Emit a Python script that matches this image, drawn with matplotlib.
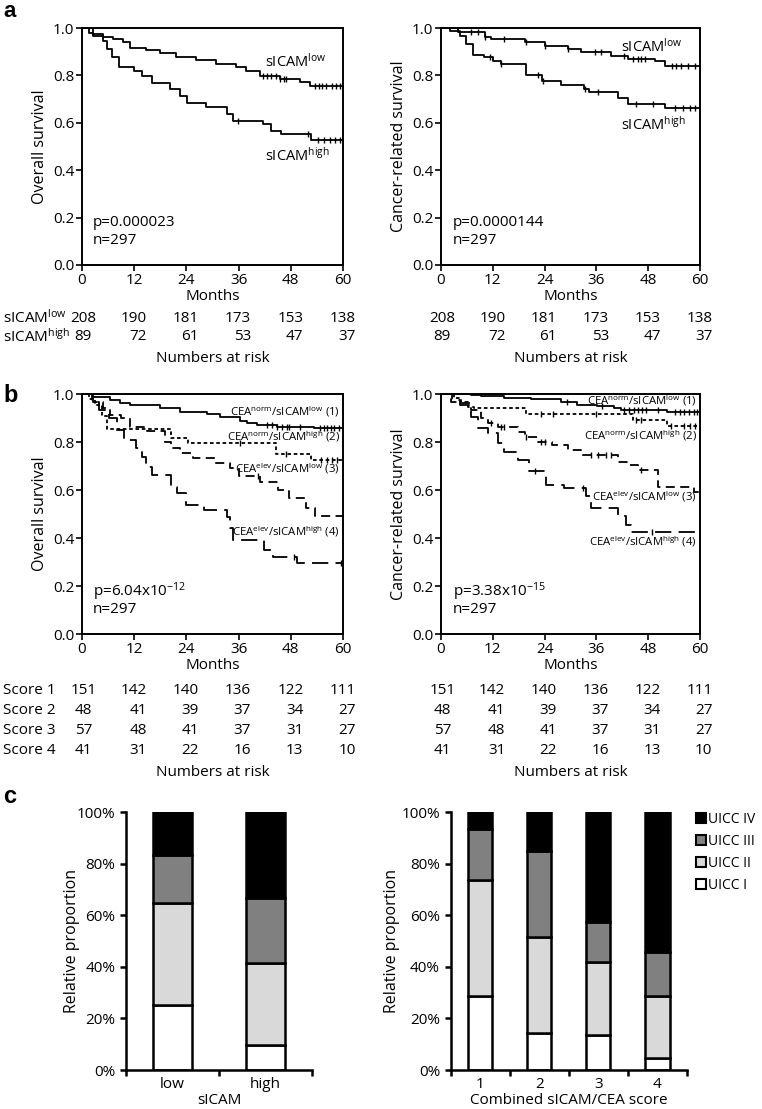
import numpy as np
import matplotlib
matplotlib.use('Agg')
import matplotlib.pyplot as plt
import matplotlib.patches as mpatches
import matplotlib.transforms as mtransforms
from matplotlib.ticker import PercentFormatter, FormatStrFormatter

plt.rcParams['font.family'] = ['Open Sans', 'DejaVu Sans']
plt.rcParams['mathtext.fontset'] = 'custom'
plt.rcParams['mathtext.rm'] = 'Open Sans'
plt.rcParams['mathtext.it'] = 'Open Sans:italic'
plt.rcParams['mathtext.bf'] = 'Open Sans:bold'

W, H = 762, 1109

################################
# a - sICAM low / high (meses, sobrevida)

a_os_low_t = [0, 2.6, 4.9, 7.2, 9.5, 11.0, 14.8, 17.9, 21.7, 26.3, 30.9, 35.5, 37.8, 40.9, 45.5, 50.1, 52.4]
a_os_low_s = [1.0, 0.975, 0.961, 0.954, 0.94, 0.916, 0.907, 0.893, 0.876, 0.865, 0.848, 0.834, 0.817, 0.799, 0.785, 0.771, 0.755]
a_os_low_cens = [41.5, 42.5, 43.5, 44.5, 45.5, 46.5, 47.0, 53.5, 54.5, 55.2, 56.0, 57.5, 58.5, 59.3]

a_os_high_t = [0, 1.5, 2.6, 4.9, 5.7, 6.9, 8.4, 11.9, 13.8, 16.1, 20.3, 22.6, 24.2, 28.4, 33.4, 34.6, 41.5, 43.4, 45.7, 52.6]
a_os_high_s = [1.0, 0.978, 0.966, 0.946, 0.911, 0.876, 0.834, 0.82, 0.799, 0.767, 0.743, 0.714, 0.682, 0.668, 0.637, 0.609, 0.595, 0.567, 0.553, 0.527]
a_os_high_cens = [35.8, 52.0, 54.3, 55.7, 57.0, 58.2, 59.3]

a_crs_low_t = [0, 3.9, 10.1, 11.6, 19.4, 24.0, 29.4, 32.5, 39.4, 43.3, 49.5, 51.8]
a_crs_low_s = [1.0, 0.982, 0.963, 0.954, 0.94, 0.925, 0.911, 0.897, 0.883, 0.869, 0.862, 0.838]
a_crs_low_cens = [7.0, 8.6, 10.1, 14.7, 19.8, 24.0, 29.4, 35.6, 37.1, 42.5, 44.5, 45.6, 46.4, 47.2,
                  53.4, 54.5, 55.7, 57.2, 58.8]

a_crs_high_t = [0, 2.0, 4.5, 5.8, 7.5, 10.0, 12.0, 14.0, 19.7, 23.5, 27.8, 33.2, 34.3, 41.0, 43.3, 52.0]
a_crs_high_s = [1.0, 0.988, 0.965, 0.932, 0.886, 0.876, 0.862, 0.848, 0.80, 0.778, 0.76, 0.743, 0.732, 0.705, 0.679, 0.663]
a_crs_high_cens = [11.3, 14.0, 22.5, 23.6, 33.3, 36.4, 45.2, 49.0, 54.1, 56.0, 57.6, 58.8]

################################
# b - score combinado CEA/sICAM

b_os_t = [
    [0, 2.6, 6.4, 8.7, 11.0, 17.9, 22.5, 28.7, 31.7, 36.3, 37.9, 40.2, 44.8, 53.3],
    [0, 1.5, 3.0, 4.6, 5.8, 20.5, 24.3, 44.6, 52.6],
    [0, 2.5, 4.8, 6.5, 9.0, 11.0, 15.0, 19.0, 20.5, 22.5, 25.5, 30.5, 34.0, 36.0, 41.0, 45.0, 47.5, 51.6, 53.5],
    [0, 2.3, 4.0, 6.2, 8.1, 9.6, 12.3, 13.8, 14.6, 16.2, 20.4, 21.9, 24.0, 28.0, 33.4, 34.0, 34.6, 41.9, 43.8, 49.5],
]
b_os_s = [
    [1.0, 0.989, 0.975, 0.964, 0.954, 0.94, 0.926, 0.917, 0.903, 0.889, 0.878, 0.871, 0.864, 0.857],
    [1.0, 0.98, 0.955, 0.91, 0.856, 0.818, 0.794, 0.751, 0.727],
    [1.0, 0.965, 0.94, 0.913, 0.899, 0.864, 0.845, 0.80, 0.774, 0.753, 0.735, 0.711, 0.69, 0.66, 0.635, 0.60, 0.565, 0.525, 0.49],
    [1.0, 0.968, 0.933, 0.899, 0.85, 0.808, 0.774, 0.739, 0.697, 0.663, 0.614, 0.586, 0.537, 0.517, 0.489, 0.44, 0.392, 0.35, 0.322, 0.294],
]
b_os_cens = [
    [42.5, 43.7, 44.8, 46.0, 47.2, 47.5, 50.2, 54.8, 55.6, 56.4, 57.2, 57.9, 59.1],
    [36.3, 47.0, 55.0, 56.4, 57.5, 58.7],
    [40.5],
    [48.8, 59.5],
]

b_crs_t = [
    [0, 7.0, 9.3, 14.6, 20.8, 27.8, 31.6, 36.2, 40.1, 41.6, 52.4],
    [0, 3.1, 4.6, 6.2, 7.7, 19.8, 44.5, 52.4],
    [0, 2.4, 4.7, 7.0, 9.3, 10.9, 13.2, 17.8, 19.4, 22.5, 25.6, 29.4, 32.5, 41.0, 43.3, 45.6, 50.3, 58.5],
    [0, 2.5, 4.5, 7.0, 8.5, 10.9, 13.2, 14.7, 17.8, 20.3, 24.3, 28.5, 33.6, 34.7, 41.0, 42.9, 44.0],
]
b_crs_s = [
    [1.0, 0.995, 0.99, 0.985, 0.978, 0.965, 0.955, 0.948, 0.94, 0.932, 0.924],
    [1.0, 0.982, 0.968, 0.947, 0.94, 0.917, 0.892, 0.866],
    [1.0, 0.968, 0.961, 0.933, 0.899, 0.878, 0.864, 0.843, 0.822, 0.801, 0.7875, 0.767, 0.746, 0.718, 0.704, 0.683, 0.614, 0.59],
    [1.0, 0.975, 0.954, 0.906, 0.857, 0.836, 0.794, 0.76, 0.725, 0.68, 0.621, 0.607, 0.573, 0.524, 0.49, 0.454, 0.426],
]
b_crs_cens = [
    [29.1, 37.2, 42.5, 43.6, 44.8, 45.6, 46.6, 47.5, 50.3, 54.2, 55.3, 56.4, 57.5, 58.6, 59.3],
    [23.2, 25.9, 35.9, 45.2, 46.4, 53.3, 56.4, 57.6, 58.8],
    [11.6, 14.0, 14.7, 19.8, 23.2, 24.0, 34.8, 36.3, 38.2, 39.4, 46.4],
    [21.7, 32.9, 48.9],
]

b_estilos = ['-', (0, (2, 1.5)), (0, (5, 3)), (0, (9, 4))]
b_nombres = [r'CEA$^{\mathrm{norm}}$/sICAM$^{\mathrm{low}}$ (1)',
             r'CEA$^{\mathrm{norm}}$/sICAM$^{\mathrm{high}}$ (2)',
             r'CEA$^{\mathrm{elev}}$/sICAM$^{\mathrm{low}}$ (3)',
             r'CEA$^{\mathrm{elev}}$/sICAM$^{\mathrm{high}}$ (4)']
b_os_label_y = [0.926, 0.822, 0.69, 0.426]
b_crs_label_y = [0.972, 0.825, 0.572, 0.385]

################################
# numeros en riesgo

meses_riesgo = [0, 12, 24, 36, 48, 60]
riesgo_a_low = [208, 190, 181, 173, 153, 138]
riesgo_a_high = [89, 72, 61, 53, 47, 37]
riesgo_b = [[151, 142, 140, 136, 122, 111],
            [48, 41, 39, 37, 34, 27],
            [57, 48, 41, 37, 31, 27],
            [41, 31, 22, 16, 13, 10]]

################################
# c - estadio UICC (proporciones)

c_estadios = ['UICC I', 'UICC II', 'UICC III', 'UICC IV']
c_colores = ['white', '#d9d9d9', '#808080', 'black']
c1_cats = ['low', 'high']
c1_vals = [[0.252, 0.097],   # UICC I
           [0.396, 0.316],   # UICC II
           [0.187, 0.255],   # UICC III
           [0.165, 0.332]]   # UICC IV
c2_cats = ['1', '2', '3', '4']
c2_vals = [[0.288, 0.142, 0.136, 0.047],
           [0.447, 0.375, 0.282, 0.241],
           [0.200, 0.332, 0.155, 0.169],
           [0.065, 0.151, 0.427, 0.543]]

################################

fig = plt.figure(figsize=(W / 100, H / 100), dpi=100)


def rect(x0, y0, x1, y1):
    # pixeles -> fraccion de figura
    return [x0 / W, 1 - y1 / H, (x1 - x0) / W, (y1 - y0) / H]


def km_axes(r, ylabel, ylab_off):
    ax = fig.add_axes(r)
    ax.set_xlim(0, 60)
    ax.set_ylim(0, 1)
    ax.set_xticks(meses_riesgo)
    ax.set_yticks(np.arange(0, 1.01, 0.2))
    ax.yaxis.set_major_formatter(FormatStrFormatter('%.1f'))
    ax.tick_params(direction='out', length=4, width=1.2, labelsize=11, pad=1.5)
    for s in ax.spines.values():
        s.set_linewidth(1.4)
    ax.set_xlabel('Months', fontsize=11)
    ax.xaxis.set_label_coords(0.5, -24 / (r[3] * H))
    ax.set_ylabel(ylabel, fontsize=11.5)
    ax.yaxis.set_label_coords(ylab_off, 0.5)
    return ax


def km_curve(ax, t, s, cens, ls):
    t = np.asarray(t)
    s = np.asarray(s)
    ax.step(np.append(t, 60), np.append(s, s[-1]), where='post', color='black', lw=1.3, linestyle=ls)
    if len(cens):
        idx = np.searchsorted(t, cens, side='right') - 1
        ax.plot(cens, s[idx], linestyle='none', marker='|', color='black', markersize=4, mew=1.0)


def fila(ax, ypx, valores, label=None):
    tr = mtransforms.blended_transform_factory(ax.transData, fig.transFigure)
    for j, (m, v) in enumerate(zip(meses_riesgo, valores)):
        if j == 0:
            ax.text(m + 0.3, 1 - ypx / H, str(v), transform=tr, ha='center', va='center', fontsize=11)
        else:
            ax.text(m + 2.9, 1 - ypx / H, str(v), transform=tr, ha='right', va='center', fontsize=11)
    if label is not None:
        fig.text(3 / W, 1 - ypx / H, label, ha='left', va='center', fontsize=11)


def titulo_riesgo(ax, ypx):
    tr = mtransforms.blended_transform_factory(ax.transAxes, fig.transFigure)
    ax.text(0.5, 1 - ypx / H, 'Numbers at risk', transform=tr, ha='center', va='center', fontsize=11)


# ---------- a
ax1 = km_axes(rect(82, 28, 343, 265), 'Overall survival', -0.13)
km_curve(ax1, a_os_low_t, a_os_low_s, a_os_low_cens, '-')
km_curve(ax1, a_os_high_t, a_os_high_s, a_os_high_cens, '-')
ax1.text(42, 0.857, r'sICAM$^{\mathrm{low}}$', fontsize=10.5, va='center')
ax1.text(42, 0.463, r'sICAM$^{\mathrm{high}}$', fontsize=10.5, va='center')
ax1.text(2.5, 0.178, 'p=0.000023', fontsize=11, va='center')
ax1.text(2.5, 0.102, 'n=297', fontsize=11, va='center')

ax2 = km_axes(rect(441, 28, 700, 265), 'Cancer-related survival', -0.13)
km_curve(ax2, a_crs_low_t, a_crs_low_s, a_crs_low_cens, '-')
km_curve(ax2, a_crs_high_t, a_crs_high_s, a_crs_high_cens, '-')
ax2.text(41.6, 0.92, r'sICAM$^{\mathrm{low}}$', fontsize=10.5, va='center')
ax2.text(41.6, 0.59, r'sICAM$^{\mathrm{high}}$', fontsize=10.5, va='center')
ax2.text(2.8, 0.178, 'p=0.0000144', fontsize=11, va='center')
ax2.text(2.8, 0.102, 'n=297', fontsize=11, va='center')

fila(ax1, 318, riesgo_a_low, r'sICAM$^{\mathrm{low}}$')
fila(ax1, 337, riesgo_a_high, r'sICAM$^{\mathrm{high}}$')
fila(ax2, 318, riesgo_a_low)
fila(ax2, 337, riesgo_a_high)
titulo_riesgo(ax1, 358)
titulo_riesgo(ax2, 358)

# ---------- b
ax3 = km_axes(rect(82, 394, 343, 634), 'Overall survival', -0.13)
for t, s, c, ls in zip(b_os_t, b_os_s, b_os_cens, b_estilos):
    km_curve(ax3, t, s, c, ls)
for nombre, yy in zip(b_nombres, b_os_label_y):
    ax3.text(59.3, yy, nombre, fontsize=8.2, ha='right', va='center')
ax3.text(2.5, 0.178, r'p=6.04x10$^{\mathrm{-12}}$', fontsize=11, va='center')
ax3.text(2.5, 0.102, 'n=297', fontsize=11, va='center')

ax4 = km_axes(rect(441, 394, 700, 634), 'Cancer-related survival', -0.13)
for t, s, c, ls in zip(b_crs_t, b_crs_s, b_crs_cens, b_estilos):
    km_curve(ax4, t, s, c, ls)
for nombre, yy in zip(b_nombres, b_crs_label_y):
    ax4.text(59.3, yy, nombre, fontsize=8.2, ha='right', va='center')
ax4.text(2.8, 0.178, r'p=3.38x10$^{\mathrm{-15}}$', fontsize=11, va='center')
ax4.text(2.8, 0.102, 'n=297', fontsize=11, va='center')

for i, (fila_vals, ypx) in enumerate(zip(riesgo_b, [690, 710, 731, 751])):
    fila(ax3, ypx, fila_vals, 'Score %d' % (i + 1))
    fila(ax4, ypx, fila_vals)
titulo_riesgo(ax3, 773)
titulo_riesgo(ax4, 773)


# ---------- c
def barras(r, cats, vals, xlabel, ylab_off):
    ax = fig.add_axes(r)
    x = np.arange(len(cats))
    abajo = np.zeros(len(cats))
    for v, col in zip(vals, c_colores):
        ax.bar(x, v, bottom=abajo, width=0.41, color=col, edgecolor='black', linewidth=1.8)
        abajo = abajo + np.asarray(v)
    ax.set_xlim(-0.5, len(cats) - 0.5)
    ax.set_ylim(0, 1)
    ax.set_yticks(np.arange(0, 1.01, 0.2))
    ax.yaxis.set_major_formatter(PercentFormatter(1.0, decimals=0))
    ax.set_xticks(np.arange(-0.5, len(cats), 1))
    ax.set_xticklabels([])
    ax.set_xticks(x, minor=True)
    ax.set_xticklabels(cats, minor=True)
    ax.tick_params(axis='x', which='minor', length=0, labelsize=11, pad=5)
    ax.tick_params(axis='both', which='major', direction='out', length=4, width=1.8, labelsize=11)
    for sp in ['top', 'right']:
        ax.spines[sp].set_visible(False)
    for sp in ['left', 'bottom']:
        ax.spines[sp].set_linewidth(1.8)
    ax.set_xlabel(xlabel, fontsize=11, labelpad=1)
    ax.set_ylabel('Relative proportion', fontsize=11.5)
    ax.yaxis.set_label_coords(ylab_off, 0.5)
    return ax


ax5 = barras(rect(126, 812, 312, 1070), c1_cats, c1_vals, 'sICAM', -0.25)
ax6 = barras(rect(450.5, 812, 687, 1070), c2_cats, c2_vals, 'Combined sICAM/CEA score', -0.215)

handles = [mpatches.Patch(facecolor=col, edgecolor='black', linewidth=1.5, label=lab)
           for col, lab in zip(c_colores, c_estadios)][::-1]
fig.legend(handles=handles, loc='upper left', bbox_to_anchor=(696 / W, 1 - 812 / H), frameon=False,
           handlelength=0.7, handleheight=0.7, handletextpad=0.2, labelspacing=0.5,
           borderaxespad=0, borderpad=0, fontsize=10)

# letras de panel
fig.text(3 / W, 1 - 1 / H, 'a', fontsize=16, fontweight='bold', family='Liberation Sans',
         ha='left', va='top')
for letra, ypx in [('b', 402), ('c', 803)]:
    fig.text(3 / W, 1 - ypx / H, letra, fontsize=17, fontweight='bold', family='Liberation Sans',
             ha='left', va='baseline')

plt.savefig('out.png', dpi=100)
